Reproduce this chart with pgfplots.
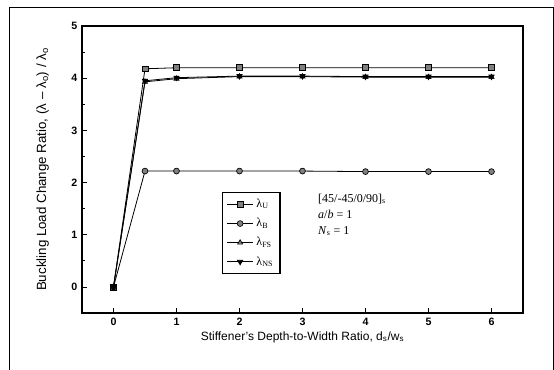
\documentclass[border=0pt]{standalone}
\usepackage{pgfplots}
\pgfplotsset{compat=1.18}
\usepackage{fontspec}
\setmainfont{Liberation Sans}
\newfontfamily\serif{Liberation Serif}
\begin{document}
\begin{tikzpicture}[x=0.75pt,y=0.75pt]
\useasboundingbox (-82,-57) rectangle (472,313);
\draw[line width=0.7pt] (-73,-57) -- (-73,306) -- (471,306) -- (471,-57);
\begin{axis}[
  at={(0,0)}, anchor=south west, scale only axis,
  width=330.75pt, height=215.25pt,
  xmin=-0.5, xmax=6.5, ymin=-0.5, ymax=5,
  xtick={0,1,2,3,4,5,6}, ytick={0,1,2,3,4,5},
  minor ytick={0.5,1.5,2.5,3.5,4.5},
  tick align=inside, xtick pos=left, ytick pos=left,
  major tick length=4pt, minor tick length=2.5pt,
  axis line style={line width=0.9pt},
  tick style={line width=0.6pt, black},
  tick label style={font=\bfseries\footnotesize},
  /pgf/number format/assume math mode=true,
  xlabel={Stiffener's Depth-to-Width Ratio, d\textsubscript{s}/w\textsubscript{s}},
  ylabel={Buckling Load Change Ratio, (λ – λ\textsubscript{o}) / λ\textsubscript{o}},
  xlabel style={font=\small, yshift=2pt},
  ylabel style={font=\normalsize, yshift=10pt},
  legend style={at={(0.317,0.422)}, anchor=north west, font=\serif\small,
    draw=black, line width=1pt, inner sep=3pt, row sep=2.5pt,
    legend cell align=left},
  legend image code/.code={\draw[mark repeat=2,mark phase=2,#1] plot coordinates {(0cm,0cm) (0.35cm,0cm) (0.7cm,0cm)};},
]
\pgfplotsset{mystyle/.style={black, line width=0.6pt, mark size=2.2pt, mark options={fill=gray, draw=black, line width=0.5pt, solid}}}
\addplot[mystyle, mark=square*] coordinates {(0,0) (0.5,4.18) (1,4.2) (2,4.2) (3,4.2) (4,4.2) (5,4.2) (6,4.2)};
\addlegendentry{λ\textsubscript{U}}
\addplot[mystyle, mark=*] coordinates {(0,0) (0.5,2.22) (1,2.22) (2,2.22) (3,2.22) (4,2.21) (5,2.21) (6,2.21)};
\addlegendentry{λ\textsubscript{B}}
\addplot[mystyle, mark=triangle*] coordinates {(0,0) (0.5,3.93) (1,3.99) (2,4.03) (3,4.03) (4,4.02) (5,4.02) (6,4.02)};
\addlegendentry{λ\textsubscript{FS}}
\addplot[mystyle, mark=triangle*, mark options={rotate=180}] coordinates {(0,0) (0.5,3.95) (1,4.01) (2,4.04) (3,4.04) (4,4.03) (5,4.03) (6,4.03)};
\addlegendentry{λ\textsubscript{NS}}
\node[anchor=north west, font=\serif\small, align=left, inner sep=0pt] at (rel axis cs:0.535,0.415)
  {[45/-45/0/90]\textsubscript{s}\\[1pt] \textit{a}/\textit{b} = 1\\[1pt] \textit{N}\textsubscript{s} = 1};
\end{axis}
\end{tikzpicture}
\end{document}
